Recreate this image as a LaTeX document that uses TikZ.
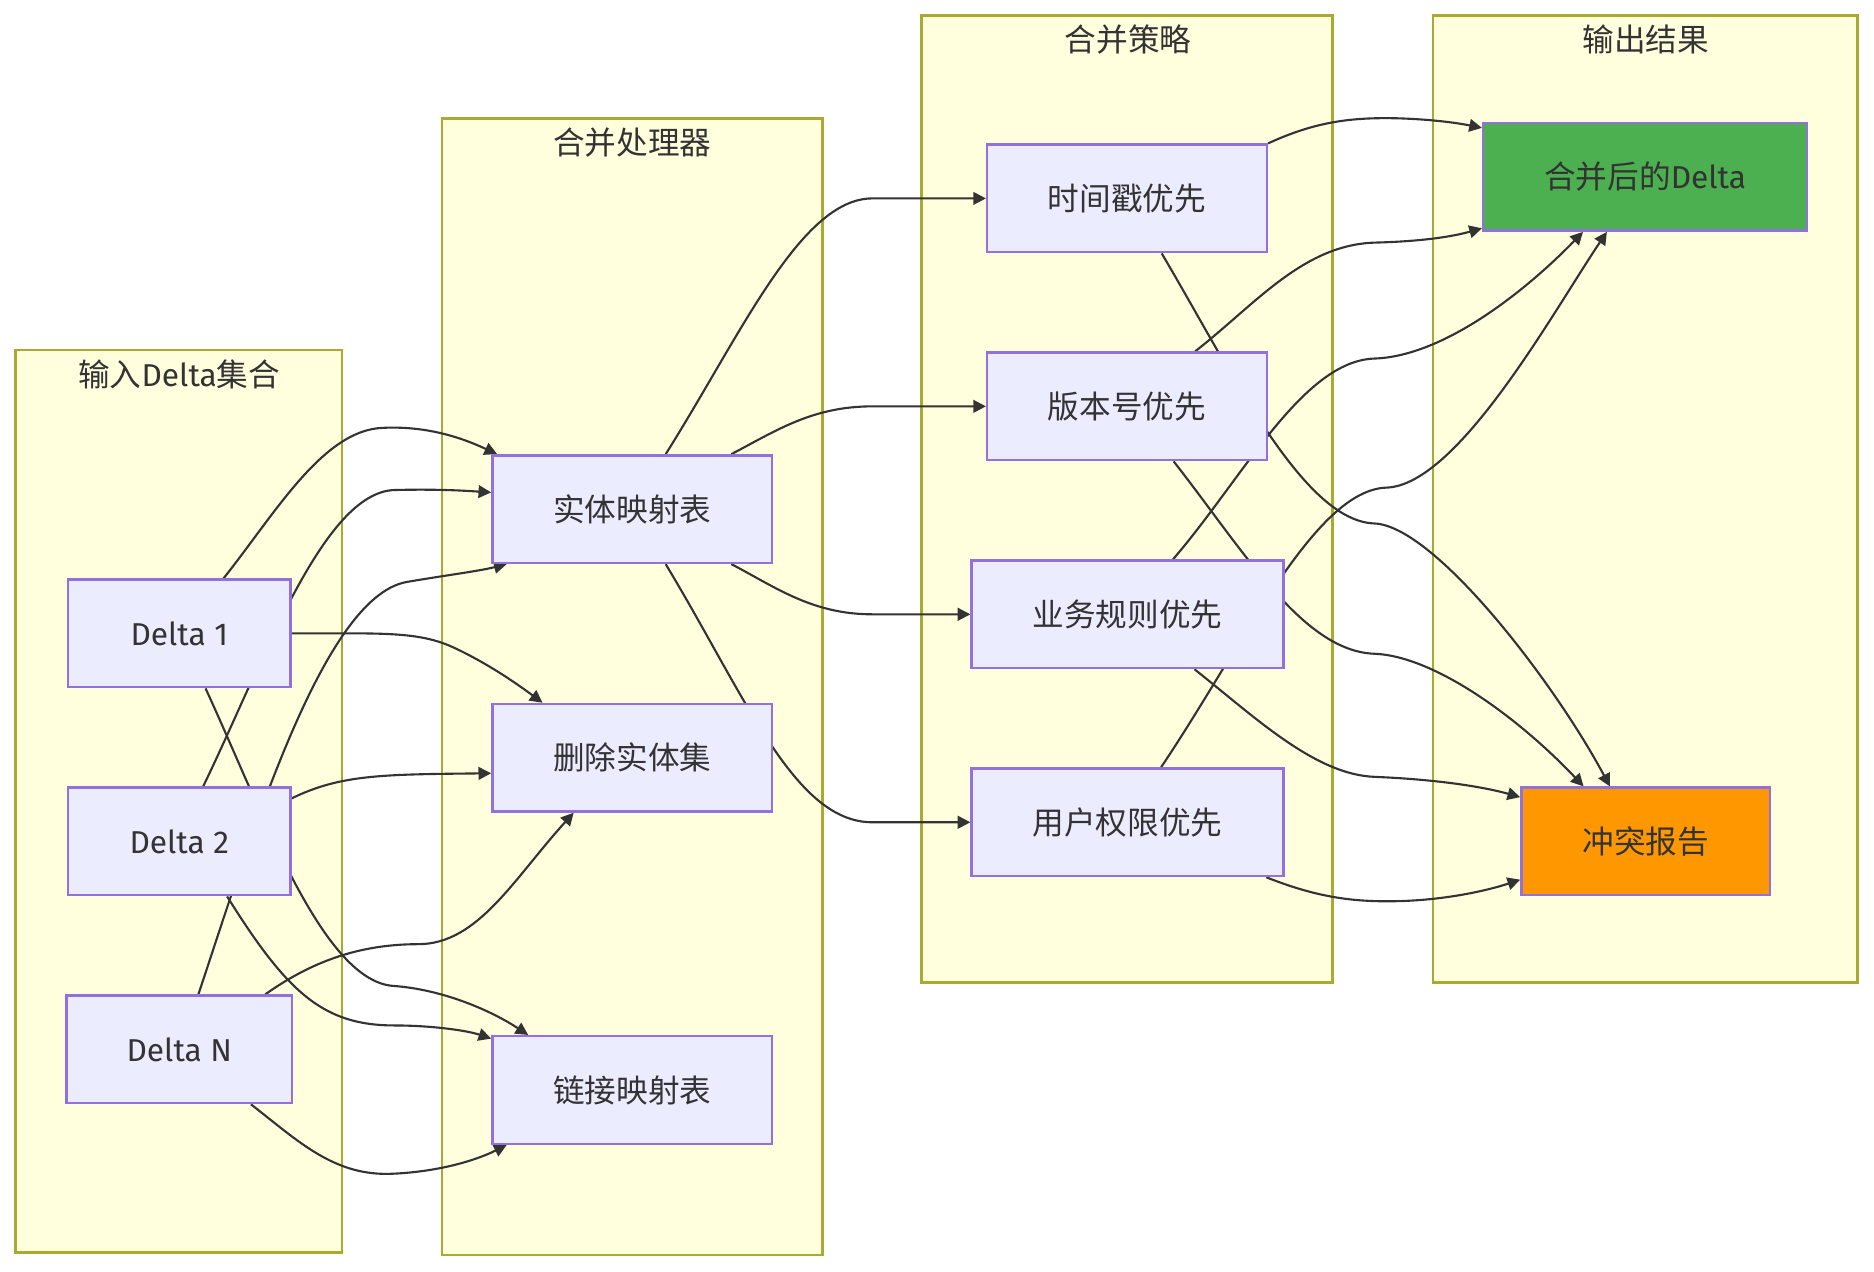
\documentclass[tikz,border=0pt]{standalone}
\usepackage{fontspec}
\setmainfont{Fira Sans}
\newfontfamily\cjk{Noto Sans CJK SC}
\usetikzlibrary{arrows.meta,calc}
\definecolor{boxfill}{HTML}{ECECFF}
\definecolor{boxline}{HTML}{9370DB}
\definecolor{groupfill}{HTML}{FFFFDE}
\definecolor{groupline}{HTML}{AAAA33}
\definecolor{linkcol}{HTML}{333333}
\definecolor{okfill}{HTML}{4CAF50}
\definecolor{warnfill}{HTML}{FF9800}
\pgfdeclarelayer{back}
\pgfdeclarelayer{links}
\pgfsetlayers{back,links,main}
\begin{document}
\begin{tikzpicture}[x=0.01195cm,y=-0.01195cm,
    font=\fontsize{9}{11}\selectfont, text=linkcol,
    box/.style={draw=boxline,fill=boxfill,line width=0.7pt,minimum height=1.075cm,inner sep=0pt},
    group/.style={draw=groupline,fill=groupfill,line width=0.7pt},
    link/.style={draw=linkcol,line width=0.6pt,-{Triangle[length=3.6pt,width=3.6pt]}}]
    \useasboundingbox (0,0) rectangle (1568,1064);
    % groups
    \begin{pgfonlayer}{back}
    \draw[group] (13,293) rectangle (286,1048);
    \draw[group] (370,99) rectangle (688,1050);
    \draw[group] (771,13) rectangle (1115,822);
    \draw[group] (1199,13) rectangle (1554,822);
    \end{pgfonlayer}
    \node (tin) at (150,313) {{\cjk 输入}Delta{\cjk 集合}};
    \node (tproc) at (529,119) {\cjk 合并处理器};
    \node (tstrat) at (944,33) {\cjk 合并策略};
    \node (tout) at (1377,33) {\cjk 输出结果};
    % inputs
    \node[box,minimum width=2.223cm] (d1) at (150,530) {Delta 1};
    \node[box,minimum width=2.223cm] (d2) at (150,704) {Delta 2};
    \node[box,minimum width=2.259cm] (dn) at (150,878) {Delta N};
    % processor
    \node[box,minimum width=2.796cm] (em) at (529,426) {\cjk 实体映射表};
    \node[box,minimum width=2.796cm] (ds) at (529,634) {\cjk 删除实体集};
    \node[box,minimum width=2.796cm] (lm) at (529,912) {\cjk 链接映射表};
    % strategies
    \node[box,minimum width=2.796cm] (s1) at (943,166) {\cjk 时间戳优先};
    \node[box,minimum width=2.796cm] (s2) at (943,340) {\cjk 版本号优先};
    \node[box,minimum width=3.119cm] (s3) at (943.5,514) {\cjk 业务规则优先};
    \node[box,minimum width=3.119cm] (s4) at (943.5,688) {\cjk 用户权限优先};
    % results
    \node[box,fill=okfill,minimum width=3.238cm] (res) at (1376.5,148) {{\cjk 合并后的}Delta};
    \node[box,fill=warnfill,minimum width=2.486cm] (conf) at (1377,704) {\cjk 冲突报告};
    \begin{pgfonlayer}{links}
    \draw[link] ($(d1.north)+(37,0)$) .. controls (230,430) and (270,360) .. (320,358) .. controls (360,356) and (390,368) .. ($(em.north west)+(5,0)$);
    \draw[link] ($(d2.north)+(20,0)$) .. controls (220,555) and (270,412) .. (330,410) .. controls (370,409) and (395,411) .. ($(em.west)+(0,-14)$);
    \draw[link] ($(dn.north)+(16,0)$) .. controls (210,700) and (270,500) .. (340,487) .. controls (375,481) and (400,478) .. ($(em.south west)+(13,0)$);
    \draw[link] (d1.east) .. controls (320,530) and (350,528) .. (380,542) .. controls (410,556) and (435,574) .. ($(ds.north west)+(43,0)$);
    \draw[link] ($(d2.east)+(0,-36)$) .. controls (285,648) and (320,648) .. ($(ds.west)+(0,13)$);
    \draw[link] ($(dn.north)+(72,0)$) .. controls (260,805) and (300,790) .. (350,790) .. controls (400,790) and (430,735) .. ($(ds.south)+(-49,0)$);
    \draw[link] ($(d1.south)+(22,0)$) .. controls (220,680) and (270,822) .. (330,825) .. controls (370,828) and (410,845) .. ($(lm.north west)+(31,0)$);
    \draw[link] ($(d2.south)+(40,0)$) .. controls (240,830) and (270,858) .. (330,858) .. controls (360,858) and (390,862) .. ($(lm.north west)+(0,3)$);
    \draw[link] ($(dn.south)+(60,0)$) .. controls (250,955) and (280,985) .. (330,982) .. controls (370,980) and (400,970) .. ($(lm.south west)+(13,0)$);
    \draw[link] ($(em.north)+(28,0)$) .. controls (620,280) and (670,166) .. (730,166) -- (s1.west);
    \draw[link] ($(em.north)+(83,0)$) .. controls (650,360) and (680,340) .. (730,340) -- (s2.west);
    \draw[link] ($(em.south)+(83,0)$) .. controls (650,492) and (680,514) .. (730,514) -- (s3.west);
    \draw[link] ($(em.south)+(28,0)$) .. controls (625,585) and (665,688) .. (730,688) -- (s4.west);
    \draw[link] (s1.north east) .. controls (1100,102) and (1130,98) .. (1170,99) .. controls (1200,100) and (1220,103) .. ($(res.north west)+(0,5)$);
    \draw[link] ($(s1.south)+(29,0)$) .. controls (1030,310) and (1090,436) .. (1150,438) .. controls (1200,440) and (1300,570) .. ($(conf.north)+(-30,0)$);
    \draw[link] ($(s2.north)+(57,0)$) .. controls (1050,255) and (1090,205) .. (1150,203) .. controls (1190,202) and (1215,198) .. ($(res.south west)+(0,-3)$);
    \draw[link] ($(s2.south)+(39,0)$) .. controls (1040,460) and (1090,545) .. (1150,547) .. controls (1200,549) and (1270,600) .. ($(conf.north)+(-52,0)$);
    \draw[link] ($(s3.north)+(38,0)$) .. controls (1040,400) and (1090,302) .. (1150,300) .. controls (1210,298) and (1280,240) .. ($(res.south)+(-52,0)$);
    \draw[link] ($(s3.south)+(56,0)$) .. controls (1050,600) and (1100,648) .. (1150,650) .. controls (1200,652) and (1240,658) .. ($(conf.north west)+(0,9)$);
    \draw[link] ($(s4.north)+(28,0)$) .. controls (1040,540) and (1100,410) .. (1160,408) .. controls (1220,406) and (1300,260) .. ($(res.south)+(-32,0)$);
    \draw[link] ($(s4.south)+(116,0)$) .. controls (1100,750) and (1130,755) .. (1170,754) .. controls (1210,753) and (1245,745) .. ($(conf.south west)+(0,-14)$);
    \end{pgfonlayer}
\end{tikzpicture}
\end{document}
